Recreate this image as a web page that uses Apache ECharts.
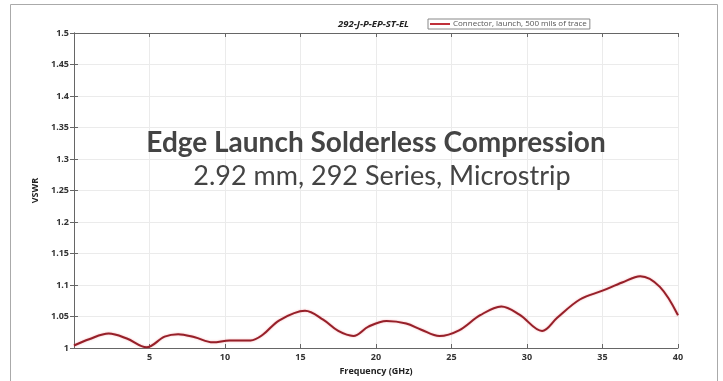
<!DOCTYPE html>
<html>
<head>
<meta charset="utf-8">
<style>
  html, body { margin: 0; padding: 0; background: #fff; }
  #chart { width: 723px; height: 381px; }
</style>
<script src="https://cdn.jsdelivr.net/npm/echarts@6/dist/echarts.min.js"></script>
</head>
<body>
<div id="chart"></div>
<script>
// Measured VSWR of the 292 edge-launch connector vs. frequency
const freqGHz = [0, 1, 2.3, 3.5, 4.8, 6, 6.9, 8, 9.2, 10.3, 11.7, 12.5, 13.6, 15.3, 16.5, 17.5, 18.5, 19.5, 20.7, 22, 23, 24.2, 25.5, 26.9, 28.3, 29.5, 31, 32, 33.5, 35, 36.3, 37.5, 38.8, 40];
const vswr = [1.004, 1.014, 1.023, 1.015, 1.001, 1.018, 1.022, 1.017, 1.009, 1.012, 1.012, 1.021, 1.044, 1.059, 1.045, 1.027, 1.019, 1.034, 1.043, 1.039, 1.029, 1.019, 1.028, 1.052, 1.066, 1.053, 1.027, 1.048, 1.077, 1.091, 1.104, 1.114, 1.097, 1.052];
const xTicks = [5, 10, 15, 20, 25, 30, 35, 40];
const yTicks = ['1', '1.05', '1.1', '1.15', '1.2', '1.25', '1.3', '1.35', '1.4', '1.45', '1.5'];

const seriesName = 'Connector, launch, 500 mils of trace';
const partNumber = '292-J-P-EP-ST-EL';
const headline = 'Edge Launch Solderless Compression';
const subline = '2.92 mm, 292 Series, Microstrip';

const chart = echarts.init(document.getElementById('chart'), null, { renderer: 'canvas' });

const tickFont = { fontFamily: 'Open Sans', fontWeight: 'bold', fontSize: 9, color: '#333' };

const option = {
  backgroundColor: '#fff',
  animation: false,
  grid: { left: 74, top: 33, right: 45, bottom: 33, containLabel: false },
  legend: {
    data: [seriesName],
    left: 428, top: 19,
    itemWidth: 20, itemHeight: 2, itemGap: 2,
    icon: 'rect',
    padding: [1, 3, 1, 2],
    borderColor: '#888', borderWidth: 1,
    textStyle: { fontFamily: 'Open Sans', fontSize: 8, color: '#555', padding: [0, 0, 0, -2] }
  },
  xAxis: [{
    type: 'value', min: 0, max: 40, interval: 5,
    name: 'Frequency (GHz)', nameLocation: 'middle', nameGap: 18,
    nameTextStyle: { fontFamily: 'Open Sans', fontWeight: 'bold', fontSize: 9, color: '#222' },
    axisLine: { lineStyle: { color: '#666', width: 1 } },
    axisTick: { inside: true, length: 4, lineStyle: { color: '#666' } },
    axisLabel: Object.assign({ margin: 5, formatter: v => (xTicks.indexOf(v) >= 0 ? String(v) : '') }, tickFont),
    splitLine: { show: true, lineStyle: { color: '#ebebeb', width: 1 } }
  }, {
    type: 'value', min: 0, max: 40, interval: 5, position: 'top',
    axisLine: { show: true, lineStyle: { color: '#666', width: 1 } },
    axisTick: { inside: true, length: 4, lineStyle: { color: '#666' } },
    axisLabel: { show: false }, splitLine: { show: false }
  }],
  yAxis: [{
    type: 'value', min: 1, max: 1.5, interval: 0.05,
    name: 'VSWR', nameLocation: 'middle', nameGap: 25, nameRotate: 90,
    nameTextStyle: { fontFamily: 'Open Sans', fontWeight: 'bold', fontSize: 9, color: '#222' },
    axisLine: { show: true, lineStyle: { color: '#666', width: 1 } },
    axisTick: { inside: true, length: 4, lineStyle: { color: '#666' } },
    axisLabel: Object.assign({ margin: 5, formatter: v => yTicks[Math.round((v - 1) / 0.05)] }, tickFont),
    splitLine: { show: true, lineStyle: { color: '#ebebeb', width: 1 } }
  }, {
    type: 'value', min: 1, max: 1.5, interval: 0.05, position: 'right',
    axisLine: { show: true, lineStyle: { color: '#666', width: 1 } },
    axisTick: { inside: true, length: 4, lineStyle: { color: '#666' } },
    axisLabel: { show: false }, splitLine: { show: false }
  }],
  series: [{
    name: seriesName,
    type: 'line',
    data: freqGHz.map((f, i) => [f, vswr[i]]),
    smooth: 0.35,
    showSymbol: false,
    lineStyle: { color: '#962029', width: 2, shadowColor: 'rgba(235,100,110,0.55)', shadowBlur: 2 },
    itemStyle: { color: '#c0303a' }
  }],
  graphic: [
    // outer frame around the figure
    { type: 'polyline', silent: true, z: 100, shape: { points: [[10.5, 381], [10.5, 4.5], [717.5, 4.5], [717.5, 381]] },
      style: { stroke: '#aaa', lineWidth: 1, fill: null } },
    { type: 'text', left: 338, top: 19, z: 100,
      style: { text: partNumber, font: 'italic bold 9.5px "Open Sans"', fill: '#222' } },
    { type: 'text', x: 376, y: 143, z: 100,
      style: { text: headline, font: 'bold 28px Lato', fill: '#444', textAlign: 'center', textVerticalAlign: 'middle' } },
    { type: 'text', x: 382, y: 176, z: 100,
      style: { text: subline, font: '27px Lato', fill: '#444', textAlign: 'center', textVerticalAlign: 'middle' } }
  ]
};

chart.setOption(option);
</script>
</body>
</html>
